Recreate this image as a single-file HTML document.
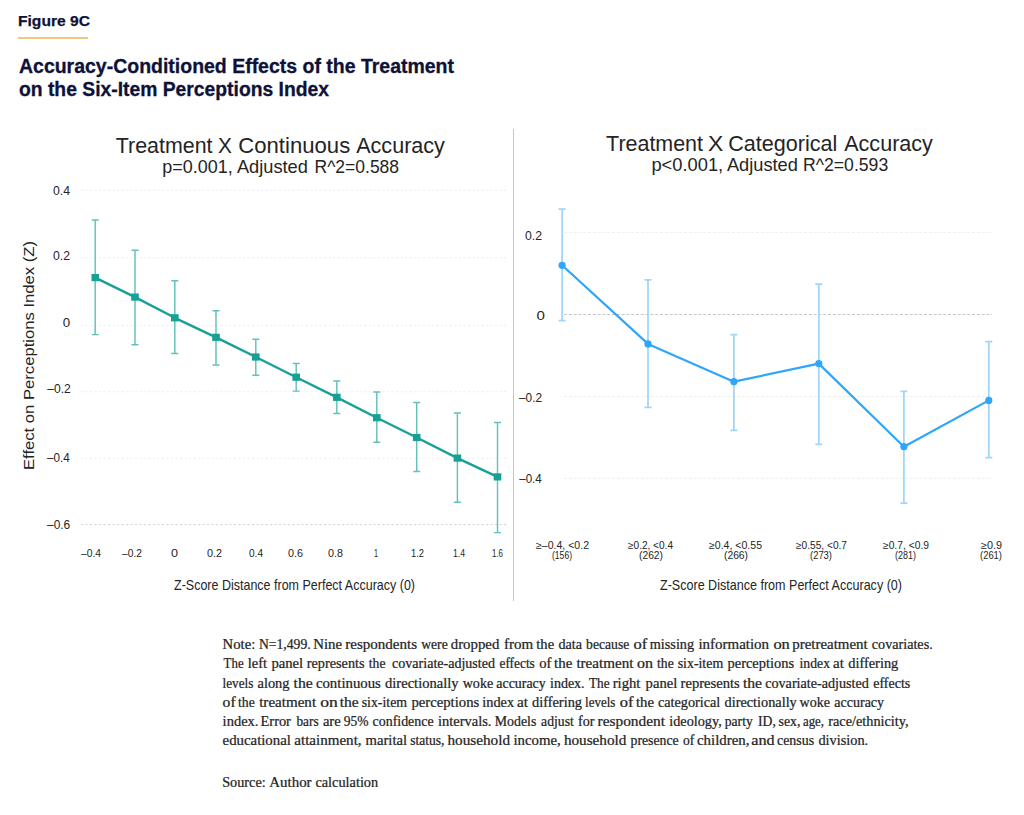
<!DOCTYPE html>
<html><head><meta charset="utf-8"><title>Figure 9C</title>
<style>
html,body{margin:0;padding:0;background:#fff;}
body{width:1024px;height:815px;overflow:hidden;font-family:"Liberation Sans",sans-serif;}
svg{display:block;}
</style></head><body>
<svg width="1024" height="815" viewBox="0 0 1024 815">
<rect x="18" y="37" width="70" height="2" fill="#efc980"/>
<rect x="513" y="129" width="1" height="472" fill="#c6c6c6"/>
<line x1="81" y1="190.2" x2="508" y2="190.2" stroke="#ededed" stroke-width="1" stroke-dasharray="2.2 2.3"/>
<line x1="81" y1="257.8" x2="508" y2="257.8" stroke="#ededed" stroke-width="1" stroke-dasharray="2.2 2.3"/>
<line x1="81" y1="325.4" x2="508" y2="325.4" stroke="#ededed" stroke-width="1" stroke-dasharray="2.2 2.3"/>
<line x1="81" y1="391.8" x2="508" y2="391.8" stroke="#ededed" stroke-width="1" stroke-dasharray="2.2 2.3"/>
<line x1="81" y1="458.4" x2="508" y2="458.4" stroke="#ededed" stroke-width="1" stroke-dasharray="2.2 2.3"/>
<line x1="81" y1="524.6" x2="508" y2="524.6" stroke="#d2d2d2" stroke-width="1" stroke-dasharray="2.2 2.3"/>
<line x1="564" y1="232.3" x2="992" y2="232.3" stroke="#ededed" stroke-width="1" stroke-dasharray="3 1.8"/>
<line x1="564" y1="314.5" x2="992" y2="314.5" stroke="#c6c6c6" stroke-width="1" stroke-dasharray="3 1.8"/>
<line x1="564" y1="396.5" x2="992" y2="396.5" stroke="#ededed" stroke-width="1" stroke-dasharray="3 1.8"/>
<line x1="564" y1="478.3" x2="992" y2="478.3" stroke="#ededed" stroke-width="1" stroke-dasharray="3 1.8"/>
<path d="M95.2 219.9V334.6M91.8 219.9h7M91.8 334.6h7" stroke="#62c2ba" stroke-width="1.45" fill="none"/>
<path d="M135.0 250.2V344.8M131.5 250.2h7M131.5 344.8h7" stroke="#62c2ba" stroke-width="1.45" fill="none"/>
<path d="M174.8 280.7V353.4M171.3 280.7h7M171.3 353.4h7" stroke="#62c2ba" stroke-width="1.45" fill="none"/>
<path d="M216.0 310.8V364.9M212.5 310.8h7M212.5 364.9h7" stroke="#62c2ba" stroke-width="1.45" fill="none"/>
<path d="M255.8 339.3V375.3M252.3 339.3h7M252.3 375.3h7" stroke="#62c2ba" stroke-width="1.45" fill="none"/>
<path d="M296.2 363.4V391.1M292.7 363.4h7M292.7 391.1h7" stroke="#62c2ba" stroke-width="1.45" fill="none"/>
<path d="M336.8 380.9V413.4M333.3 380.9h7M333.3 413.4h7" stroke="#62c2ba" stroke-width="1.45" fill="none"/>
<path d="M376.8 392.0V442.3M373.3 392.0h7M373.3 442.3h7" stroke="#62c2ba" stroke-width="1.45" fill="none"/>
<path d="M416.7 402.5V471.4M413.2 402.5h7M413.2 471.4h7" stroke="#62c2ba" stroke-width="1.45" fill="none"/>
<path d="M457.4 413.0V502.3M453.9 413.0h7M453.9 502.3h7" stroke="#62c2ba" stroke-width="1.45" fill="none"/>
<path d="M497.5 422.4V532.6M494.0 422.4h7M494.0 532.6h7" stroke="#62c2ba" stroke-width="1.45" fill="none"/>
<polyline points="95.2,277.6 135.0,297.1 174.8,317.8 216.0,337.3 255.8,357.0 296.2,377.2 336.8,397.3 376.8,417.7 416.7,437.5 457.4,458.1 497.5,476.9" stroke="#17a096" stroke-width="2.4" fill="none" stroke-linejoin="round"/>
<rect x="91.5" y="274.0" width="7.6" height="7.2" fill="#17a096"/>
<rect x="131.2" y="293.5" width="7.6" height="7.2" fill="#17a096"/>
<rect x="171.0" y="314.2" width="7.6" height="7.2" fill="#17a096"/>
<rect x="212.2" y="333.7" width="7.6" height="7.2" fill="#17a096"/>
<rect x="252.0" y="353.4" width="7.6" height="7.2" fill="#17a096"/>
<rect x="292.4" y="373.6" width="7.6" height="7.2" fill="#17a096"/>
<rect x="333.0" y="393.7" width="7.6" height="7.2" fill="#17a096"/>
<rect x="373.0" y="414.1" width="7.6" height="7.2" fill="#17a096"/>
<rect x="412.9" y="433.9" width="7.6" height="7.2" fill="#17a096"/>
<rect x="453.6" y="454.5" width="7.6" height="7.2" fill="#17a096"/>
<rect x="493.7" y="473.3" width="7.6" height="7.2" fill="#17a096"/>
<path d="M562.1 209V320.7M558.6 209h7M558.6 320.7h7" stroke="#a0d6fc" stroke-width="1.75" fill="none"/>
<path d="M648.0 279.8V407.4M644.5 279.8h7M644.5 407.4h7" stroke="#a0d6fc" stroke-width="1.75" fill="none"/>
<path d="M733.9 334.7V430.4M730.4 334.7h7M730.4 430.4h7" stroke="#a0d6fc" stroke-width="1.75" fill="none"/>
<path d="M818.8 284.1V444.3M815.3 284.1h7M815.3 444.3h7" stroke="#a0d6fc" stroke-width="1.75" fill="none"/>
<path d="M903.9 391.3V503.2M900.4 391.3h7M900.4 503.2h7" stroke="#a0d6fc" stroke-width="1.75" fill="none"/>
<path d="M988.8 341.6V457.6M985.3 341.6h7M985.3 457.6h7" stroke="#a0d6fc" stroke-width="1.75" fill="none"/>
<polyline points="562.1,265.3 648.0,343.9 733.9,381.7 818.8,363.6 903.9,446.7 988.8,400.4" stroke="#2ea6fb" stroke-width="2.2" fill="none" stroke-linejoin="round"/>
<circle cx="562.1" cy="265.3" r="3.6" fill="#2ea6fb"/>
<circle cx="648.0" cy="343.9" r="3.6" fill="#2ea6fb"/>
<circle cx="733.9" cy="381.7" r="3.6" fill="#2ea6fb"/>
<circle cx="818.8" cy="363.6" r="3.6" fill="#2ea6fb"/>
<circle cx="903.9" cy="446.7" r="3.6" fill="#2ea6fb"/>
<circle cx="988.8" cy="400.4" r="3.6" fill="#2ea6fb"/>
<text x="18.0" y="26.3" font-size="15.5" font-family="Liberation Sans" font-weight="bold" fill="#0e1238" stroke="#0e1238" stroke-width="0.25" textLength="72.0" lengthAdjust="spacingAndGlyphs">Figure 9C</text>
<text x="19.0" y="72.9" font-size="19.5" font-family="Liberation Sans" font-weight="bold" fill="#0e1238" stroke="#0e1238" stroke-width="0.3" textLength="435.0" lengthAdjust="spacingAndGlyphs">Accuracy-Conditioned Effects of the Treatment</text>
<text x="19.0" y="96.3" font-size="19.5" font-family="Liberation Sans" font-weight="bold" fill="#0e1238" stroke="#0e1238" stroke-width="0.3" textLength="310.0" lengthAdjust="spacingAndGlyphs">on the Six-Item Perceptions Index</text>
<text x="115.8" y="152.5" font-size="22.6" font-family="Liberation Sans" fill="#242424" textLength="96.7" lengthAdjust="spacingAndGlyphs">Treatment</text>
<text x="217.9" y="152.5" font-size="22.6" font-family="Liberation Sans" fill="#242424" textLength="13.9" lengthAdjust="spacingAndGlyphs">X</text>
<text x="238.3" y="152.5" font-size="22.6" font-family="Liberation Sans" fill="#242424" textLength="111.9" lengthAdjust="spacingAndGlyphs">Continuous</text>
<text x="356.2" y="152.5" font-size="22.6" font-family="Liberation Sans" fill="#242424" textLength="88.7" lengthAdjust="spacingAndGlyphs">Accuracy</text>
<text x="162.3" y="173.3" font-size="17.8" font-family="Liberation Sans" fill="#242424" textLength="70.5" lengthAdjust="spacingAndGlyphs">p=0.001,</text>
<text x="236.9" y="173.3" font-size="17.8" font-family="Liberation Sans" fill="#242424" textLength="71.0" lengthAdjust="spacingAndGlyphs">Adjusted</text>
<text x="314.5" y="173.3" font-size="17.8" font-family="Liberation Sans" fill="#242424" textLength="84.6" lengthAdjust="spacingAndGlyphs">R^2=0.588</text>
<text x="606.1" y="150.6" font-size="22.6" font-family="Liberation Sans" fill="#242424" textLength="96.9" lengthAdjust="spacingAndGlyphs">Treatment</text>
<text x="707.9" y="150.6" font-size="22.6" font-family="Liberation Sans" fill="#242424" textLength="15.3" lengthAdjust="spacingAndGlyphs">X</text>
<text x="728.3" y="150.6" font-size="22.6" font-family="Liberation Sans" fill="#242424" textLength="109.0" lengthAdjust="spacingAndGlyphs">Categorical</text>
<text x="844.2" y="150.6" font-size="22.6" font-family="Liberation Sans" fill="#242424" textLength="88.7" lengthAdjust="spacingAndGlyphs">Accuracy</text>
<text x="651.4" y="170.9" font-size="17.8" font-family="Liberation Sans" fill="#242424" textLength="71.8" lengthAdjust="spacingAndGlyphs">p&lt;0.001,</text>
<text x="726.9" y="170.9" font-size="17.8" font-family="Liberation Sans" fill="#242424" textLength="71.0" lengthAdjust="spacingAndGlyphs">Adjusted</text>
<text x="803.0" y="170.9" font-size="17.8" font-family="Liberation Sans" fill="#242424" textLength="85.2" lengthAdjust="spacingAndGlyphs">R^2=0.593</text>
<text x="53.0" y="195.3" font-size="13" font-family="Liberation Sans" fill="#242424" textLength="17.0" lengthAdjust="spacingAndGlyphs">0.4</text>
<text x="53.0" y="260.0" font-size="13" font-family="Liberation Sans" fill="#242424" textLength="17.0" lengthAdjust="spacingAndGlyphs">0.2</text>
<text x="62.8" y="326.6" font-size="13" font-family="Liberation Sans" fill="#242424" textLength="7.4" lengthAdjust="spacingAndGlyphs">0</text>
<text x="47.2" y="393.2" font-size="13" font-family="Liberation Sans" fill="#242424" textLength="23.6" lengthAdjust="spacingAndGlyphs">–0.2</text>
<text x="47.0" y="462.3" font-size="13" font-family="Liberation Sans" fill="#242424" textLength="22.8" lengthAdjust="spacingAndGlyphs">–0.4</text>
<text x="47.0" y="529.0" font-size="13" font-family="Liberation Sans" fill="#242424" textLength="23.2" lengthAdjust="spacingAndGlyphs">–0.6</text>
<text x="525.0" y="239.5" font-size="13" font-family="Liberation Sans" fill="#242424" textLength="17.0" lengthAdjust="spacingAndGlyphs">0.2</text>
<text x="536.5" y="320.3" font-size="13" font-family="Liberation Sans" fill="#242424" textLength="8.4" lengthAdjust="spacingAndGlyphs">0</text>
<text x="519.0" y="401.8" font-size="13" font-family="Liberation Sans" fill="#242424" textLength="23.0" lengthAdjust="spacingAndGlyphs">–0.2</text>
<text x="519.2" y="482.8" font-size="13" font-family="Liberation Sans" fill="#242424" textLength="22.6" lengthAdjust="spacingAndGlyphs">–0.4</text>
<text x="81.0" y="557.0" font-size="10.3" font-family="Liberation Sans" fill="#242424" textLength="20.0" lengthAdjust="spacingAndGlyphs">–0.4</text>
<text x="122.0" y="557.0" font-size="10.3" font-family="Liberation Sans" fill="#242424" textLength="20.0" lengthAdjust="spacingAndGlyphs">–0.2</text>
<text x="171.0" y="557.0" font-size="10.3" font-family="Liberation Sans" fill="#242424" textLength="7.0" lengthAdjust="spacingAndGlyphs">0</text>
<text x="207.0" y="557.0" font-size="10.3" font-family="Liberation Sans" fill="#242424" textLength="15.0" lengthAdjust="spacingAndGlyphs">0.2</text>
<text x="249.0" y="557.0" font-size="10.3" font-family="Liberation Sans" fill="#242424" textLength="14.0" lengthAdjust="spacingAndGlyphs">0.4</text>
<text x="288.0" y="557.0" font-size="10.3" font-family="Liberation Sans" fill="#242424" textLength="15.0" lengthAdjust="spacingAndGlyphs">0.6</text>
<text x="328.0" y="557.0" font-size="10.3" font-family="Liberation Sans" fill="#242424" textLength="15.0" lengthAdjust="spacingAndGlyphs">0.8</text>
<text x="374.0" y="557.0" font-size="10.3" font-family="Liberation Sans" fill="#242424" textLength="4.0" lengthAdjust="spacingAndGlyphs">1</text>
<text x="411.0" y="557.0" font-size="10.3" font-family="Liberation Sans" fill="#242424" textLength="13.0" lengthAdjust="spacingAndGlyphs">1.2</text>
<text x="453.0" y="557.0" font-size="10.3" font-family="Liberation Sans" fill="#242424" textLength="12.0" lengthAdjust="spacingAndGlyphs">1.4</text>
<text x="492.0" y="557.0" font-size="10.3" font-family="Liberation Sans" fill="#242424" textLength="11.0" lengthAdjust="spacingAndGlyphs">1.6</text>
<text x="536.0" y="549.1" font-size="10.4" font-family="Liberation Sans" fill="#242424" textLength="53.0" lengthAdjust="spacingAndGlyphs">≥–0.4, &lt;0.2</text>
<text x="552.0" y="558.7" font-size="10.4" font-family="Liberation Sans" fill="#242424" textLength="20.0" lengthAdjust="spacingAndGlyphs">(156)</text>
<text x="628.0" y="549.1" font-size="10.4" font-family="Liberation Sans" fill="#242424" textLength="45.0" lengthAdjust="spacingAndGlyphs">≥0.2, &lt;0.4</text>
<text x="639.0" y="558.7" font-size="10.4" font-family="Liberation Sans" fill="#242424" textLength="24.0" lengthAdjust="spacingAndGlyphs">(262)</text>
<text x="709.0" y="549.1" font-size="10.4" font-family="Liberation Sans" fill="#242424" textLength="53.0" lengthAdjust="spacingAndGlyphs">≥0.4, &lt;0.55</text>
<text x="724.0" y="558.7" font-size="10.4" font-family="Liberation Sans" fill="#242424" textLength="24.0" lengthAdjust="spacingAndGlyphs">(266)</text>
<text x="796.0" y="549.1" font-size="10.4" font-family="Liberation Sans" fill="#242424" textLength="51.0" lengthAdjust="spacingAndGlyphs">≥0.55, &lt;0.7</text>
<text x="810.0" y="558.7" font-size="10.4" font-family="Liberation Sans" fill="#242424" textLength="22.0" lengthAdjust="spacingAndGlyphs">(273)</text>
<text x="883.0" y="549.1" font-size="10.4" font-family="Liberation Sans" fill="#242424" textLength="46.0" lengthAdjust="spacingAndGlyphs">≥0.7, &lt;0.9</text>
<text x="895.0" y="558.7" font-size="10.4" font-family="Liberation Sans" fill="#242424" textLength="21.0" lengthAdjust="spacingAndGlyphs">(281)</text>
<text x="981.0" y="549.1" font-size="10.4" font-family="Liberation Sans" fill="#242424" textLength="21.0" lengthAdjust="spacingAndGlyphs">≥0.9</text>
<text x="980.0" y="558.7" font-size="10.4" font-family="Liberation Sans" fill="#242424" textLength="22.0" lengthAdjust="spacingAndGlyphs">(261)</text>
<text x="174.0" y="589.8" font-size="13.9" font-family="Liberation Sans" fill="#242424" textLength="241.0" lengthAdjust="spacingAndGlyphs">Z-Score Distance from Perfect Accuracy (0)</text>
<text x="660.0" y="589.8" font-size="13.9" font-family="Liberation Sans" fill="#242424" textLength="242.0" lengthAdjust="spacingAndGlyphs">Z-Score Distance from Perfect Accuracy (0)</text>
<text transform="translate(34.0 470.0) rotate(-90)" x="0" y="0" font-size="15" font-family="Liberation Sans" fill="#242424" textLength="229.0" lengthAdjust="spacingAndGlyphs">Effect on Perceptions Index (Z)</text>
<text x="222.6" y="648.9" font-size="14" font-family="Liberation Serif" fill="#242424" stroke="#242424" stroke-width="0.24" textLength="32.7" lengthAdjust="spacingAndGlyphs">Note:</text>
<text x="258.9" y="648.9" font-size="14" font-family="Liberation Serif" fill="#242424" stroke="#242424" stroke-width="0.24" textLength="51.8" lengthAdjust="spacingAndGlyphs">N=1,499.</text>
<text x="313.25" y="648.9" font-size="14" font-family="Liberation Serif" fill="#242424" stroke="#242424" stroke-width="0.24" textLength="28.85" lengthAdjust="spacingAndGlyphs">Nine</text>
<text x="345.2" y="648.9" font-size="14" font-family="Liberation Serif" fill="#242424" stroke="#242424" stroke-width="0.24" textLength="71.9" lengthAdjust="spacingAndGlyphs">respondents</text>
<text x="421.2" y="648.9" font-size="14" font-family="Liberation Serif" fill="#242424" stroke="#242424" stroke-width="0.24" textLength="26.5" lengthAdjust="spacingAndGlyphs">were</text>
<text x="450.75" y="648.9" font-size="14" font-family="Liberation Serif" fill="#242424" stroke="#242424" stroke-width="0.24" textLength="48.55" lengthAdjust="spacingAndGlyphs">dropped</text>
<text x="504.0" y="648.9" font-size="14" font-family="Liberation Serif" fill="#242424" stroke="#242424" stroke-width="0.24" textLength="29.2" lengthAdjust="spacingAndGlyphs">from</text>
<text x="536.3" y="648.9" font-size="14" font-family="Liberation Serif" fill="#242424" stroke="#242424" stroke-width="0.24" textLength="17.8" lengthAdjust="spacingAndGlyphs">the</text>
<text x="558.4" y="648.9" font-size="14" font-family="Liberation Serif" fill="#242424" stroke="#242424" stroke-width="0.24" textLength="23.6" lengthAdjust="spacingAndGlyphs">data</text>
<text x="586.1" y="648.9" font-size="14" font-family="Liberation Serif" fill="#242424" stroke="#242424" stroke-width="0.24" textLength="43.2" lengthAdjust="spacingAndGlyphs">because</text>
<text x="633.6" y="648.9" font-size="14" font-family="Liberation Serif" fill="#242424" stroke="#242424" stroke-width="0.24" textLength="13.7" lengthAdjust="spacingAndGlyphs">of</text>
<text x="649.8" y="648.9" font-size="14" font-family="Liberation Serif" fill="#242424" stroke="#242424" stroke-width="0.24" textLength="44.3" lengthAdjust="spacingAndGlyphs">missing</text>
<text x="698.4" y="648.9" font-size="14" font-family="Liberation Serif" fill="#242424" stroke="#242424" stroke-width="0.24" textLength="70.7" lengthAdjust="spacingAndGlyphs">information</text>
<text x="773.4" y="648.9" font-size="14" font-family="Liberation Serif" fill="#242424" stroke="#242424" stroke-width="0.24" textLength="16.4" lengthAdjust="spacingAndGlyphs">on</text>
<text x="792.2" y="648.9" font-size="14" font-family="Liberation Serif" fill="#242424" stroke="#242424" stroke-width="0.24" textLength="75.5" lengthAdjust="spacingAndGlyphs">pretreatment</text>
<text x="871.8" y="648.9" font-size="14" font-family="Liberation Serif" fill="#242424" stroke="#242424" stroke-width="0.24" textLength="60.9" lengthAdjust="spacingAndGlyphs">covariates.</text>
<text x="223.6" y="668.2" font-size="14" font-family="Liberation Serif" fill="#242424" stroke="#242424" stroke-width="0.24" textLength="20.0" lengthAdjust="spacingAndGlyphs">The</text>
<text x="247.7" y="668.2" font-size="14" font-family="Liberation Serif" fill="#242424" stroke="#242424" stroke-width="0.24" textLength="19.4" lengthAdjust="spacingAndGlyphs">left</text>
<text x="271.4" y="668.2" font-size="14" font-family="Liberation Serif" fill="#242424" stroke="#242424" stroke-width="0.24" textLength="31.8" lengthAdjust="spacingAndGlyphs">panel</text>
<text x="306.8" y="668.2" font-size="14" font-family="Liberation Serif" fill="#242424" stroke="#242424" stroke-width="0.24" textLength="57.7" lengthAdjust="spacingAndGlyphs">represents</text>
<text x="368.8" y="668.2" font-size="14" font-family="Liberation Serif" fill="#242424" stroke="#242424" stroke-width="0.24" textLength="16.7" lengthAdjust="spacingAndGlyphs">the</text>
<text x="392.1" y="668.2" font-size="14" font-family="Liberation Serif" fill="#242424" stroke="#242424" stroke-width="0.24" textLength="102.9" lengthAdjust="spacingAndGlyphs">covariate-adjusted</text>
<text x="499.5" y="668.2" font-size="14" font-family="Liberation Serif" fill="#242424" stroke="#242424" stroke-width="0.24" textLength="35.3" lengthAdjust="spacingAndGlyphs">effects</text>
<text x="539.2" y="668.2" font-size="14" font-family="Liberation Serif" fill="#242424" stroke="#242424" stroke-width="0.24" textLength="12.2" lengthAdjust="spacingAndGlyphs">of</text>
<text x="554.1" y="668.2" font-size="14" font-family="Liberation Serif" fill="#242424" stroke="#242424" stroke-width="0.24" textLength="18.2" lengthAdjust="spacingAndGlyphs">the</text>
<text x="576.4" y="668.2" font-size="14" font-family="Liberation Serif" fill="#242424" stroke="#242424" stroke-width="0.24" textLength="57.0" lengthAdjust="spacingAndGlyphs">treatment</text>
<text x="637.1" y="668.2" font-size="14" font-family="Liberation Serif" fill="#242424" stroke="#242424" stroke-width="0.24" textLength="16.0" lengthAdjust="spacingAndGlyphs">on</text>
<text x="657.0" y="668.2" font-size="14" font-family="Liberation Serif" fill="#242424" stroke="#242424" stroke-width="0.24" textLength="16.7" lengthAdjust="spacingAndGlyphs">the</text>
<text x="677.7" y="668.2" font-size="14" font-family="Liberation Serif" fill="#242424" stroke="#242424" stroke-width="0.24" textLength="45.5" lengthAdjust="spacingAndGlyphs">six-item</text>
<text x="727.5" y="668.2" font-size="14" font-family="Liberation Serif" fill="#242424" stroke="#242424" stroke-width="0.24" textLength="66.6" lengthAdjust="spacingAndGlyphs">perceptions</text>
<text x="799.5" y="668.2" font-size="14" font-family="Liberation Serif" fill="#242424" stroke="#242424" stroke-width="0.24" textLength="30.5" lengthAdjust="spacingAndGlyphs">index</text>
<text x="833.1" y="668.2" font-size="14" font-family="Liberation Serif" fill="#242424" stroke="#242424" stroke-width="0.24" textLength="10.9" lengthAdjust="spacingAndGlyphs">at</text>
<text x="848.25" y="668.2" font-size="14" font-family="Liberation Serif" fill="#242424" stroke="#242424" stroke-width="0.24" textLength="50.0" lengthAdjust="spacingAndGlyphs">differing</text>
<text x="222.6" y="687.5" font-size="14" font-family="Liberation Serif" fill="#242424" stroke="#242424" stroke-width="0.24" textLength="30.8" lengthAdjust="spacingAndGlyphs">levels</text>
<text x="257.5" y="687.5" font-size="14" font-family="Liberation Serif" fill="#242424" stroke="#242424" stroke-width="0.24" textLength="32.0" lengthAdjust="spacingAndGlyphs">along</text>
<text x="293.6" y="687.5" font-size="14" font-family="Liberation Serif" fill="#242424" stroke="#242424" stroke-width="0.24" textLength="19.2" lengthAdjust="spacingAndGlyphs">the</text>
<text x="315.9" y="687.5" font-size="14" font-family="Liberation Serif" fill="#242424" stroke="#242424" stroke-width="0.24" textLength="65.0" lengthAdjust="spacingAndGlyphs">continuous</text>
<text x="385.0" y="687.5" font-size="14" font-family="Liberation Serif" fill="#242424" stroke="#242424" stroke-width="0.24" textLength="73.6" lengthAdjust="spacingAndGlyphs">directionally</text>
<text x="462.7" y="687.5" font-size="14" font-family="Liberation Serif" fill="#242424" stroke="#242424" stroke-width="0.24" textLength="30.5" lengthAdjust="spacingAndGlyphs">woke</text>
<text x="496.3" y="687.5" font-size="14" font-family="Liberation Serif" fill="#242424" stroke="#242424" stroke-width="0.24" textLength="49.4" lengthAdjust="spacingAndGlyphs">accuracy</text>
<text x="550.0" y="687.5" font-size="14" font-family="Liberation Serif" fill="#242424" stroke="#242424" stroke-width="0.24" textLength="34.6" lengthAdjust="spacingAndGlyphs">index.</text>
<text x="589.0" y="687.5" font-size="14" font-family="Liberation Serif" fill="#242424" stroke="#242424" stroke-width="0.24" textLength="20.6" lengthAdjust="spacingAndGlyphs">The</text>
<text x="612.7" y="687.5" font-size="14" font-family="Liberation Serif" fill="#242424" stroke="#242424" stroke-width="0.24" textLength="27.7" lengthAdjust="spacingAndGlyphs">right</text>
<text x="645.6" y="687.5" font-size="14" font-family="Liberation Serif" fill="#242424" stroke="#242424" stroke-width="0.24" textLength="31.7" lengthAdjust="spacingAndGlyphs">panel</text>
<text x="680.6" y="687.5" font-size="14" font-family="Liberation Serif" fill="#242424" stroke="#242424" stroke-width="0.24" textLength="59.2" lengthAdjust="spacingAndGlyphs">represents</text>
<text x="742.9" y="687.5" font-size="14" font-family="Liberation Serif" fill="#242424" stroke="#242424" stroke-width="0.24" textLength="19.2" lengthAdjust="spacingAndGlyphs">the</text>
<text x="765.2" y="687.5" font-size="14" font-family="Liberation Serif" fill="#242424" stroke="#242424" stroke-width="0.24" textLength="103.7" lengthAdjust="spacingAndGlyphs">covariate-adjusted</text>
<text x="873.25" y="687.5" font-size="14" font-family="Liberation Serif" fill="#242424" stroke="#242424" stroke-width="0.24" textLength="37.05" lengthAdjust="spacingAndGlyphs">effects</text>
<text x="222.6" y="706.6" font-size="14" font-family="Liberation Serif" fill="#242424" stroke="#242424" stroke-width="0.24" textLength="13.0" lengthAdjust="spacingAndGlyphs">of</text>
<text x="238.0" y="706.6" font-size="14" font-family="Liberation Serif" fill="#242424" stroke="#242424" stroke-width="0.24" textLength="16.8" lengthAdjust="spacingAndGlyphs">the</text>
<text x="259.2" y="706.6" font-size="14" font-family="Liberation Serif" fill="#242424" stroke="#242424" stroke-width="0.24" textLength="56.9" lengthAdjust="spacingAndGlyphs">treatment</text>
<text x="320.2" y="706.6" font-size="14" font-family="Liberation Serif" fill="#242424" stroke="#242424" stroke-width="0.24" textLength="17.6" lengthAdjust="spacingAndGlyphs">on</text>
<text x="339.7" y="706.6" font-size="14" font-family="Liberation Serif" fill="#242424" stroke="#242424" stroke-width="0.24" textLength="19.0" lengthAdjust="spacingAndGlyphs">the</text>
<text x="361.7" y="706.6" font-size="14" font-family="Liberation Serif" fill="#242424" stroke="#242424" stroke-width="0.24" textLength="45.4" lengthAdjust="spacingAndGlyphs">six-item</text>
<text x="411.4" y="706.6" font-size="14" font-family="Liberation Serif" fill="#242424" stroke="#242424" stroke-width="0.24" textLength="67.85" lengthAdjust="spacingAndGlyphs">perceptions</text>
<text x="482.3" y="706.6" font-size="14" font-family="Liberation Serif" fill="#242424" stroke="#242424" stroke-width="0.24" textLength="31.8" lengthAdjust="spacingAndGlyphs">index</text>
<text x="516.9" y="706.6" font-size="14" font-family="Liberation Serif" fill="#242424" stroke="#242424" stroke-width="0.24" textLength="11.0" lengthAdjust="spacingAndGlyphs">at</text>
<text x="532.0" y="706.6" font-size="14" font-family="Liberation Serif" fill="#242424" stroke="#242424" stroke-width="0.24" textLength="50.0" lengthAdjust="spacingAndGlyphs">differing</text>
<text x="585.1" y="706.6" font-size="14" font-family="Liberation Serif" fill="#242424" stroke="#242424" stroke-width="0.24" textLength="30.3" lengthAdjust="spacingAndGlyphs">levels</text>
<text x="619.7" y="706.6" font-size="14" font-family="Liberation Serif" fill="#242424" stroke="#242424" stroke-width="0.24" textLength="13.7" lengthAdjust="spacingAndGlyphs">of</text>
<text x="636.0" y="706.6" font-size="14" font-family="Liberation Serif" fill="#242424" stroke="#242424" stroke-width="0.24" textLength="18.1" lengthAdjust="spacingAndGlyphs">the</text>
<text x="658.0" y="706.6" font-size="14" font-family="Liberation Serif" fill="#242424" stroke="#242424" stroke-width="0.24" textLength="62.3" lengthAdjust="spacingAndGlyphs">categorical</text>
<text x="724.6" y="706.6" font-size="14" font-family="Liberation Serif" fill="#242424" stroke="#242424" stroke-width="0.24" textLength="72.15" lengthAdjust="spacingAndGlyphs">directionally</text>
<text x="799.5" y="706.6" font-size="14" font-family="Liberation Serif" fill="#242424" stroke="#242424" stroke-width="0.24" textLength="30.5" lengthAdjust="spacingAndGlyphs">woke</text>
<text x="834.3" y="706.6" font-size="14" font-family="Liberation Serif" fill="#242424" stroke="#242424" stroke-width="0.24" textLength="49.8" lengthAdjust="spacingAndGlyphs">accuracy</text>
<text x="222.6" y="725.8" font-size="14" font-family="Liberation Serif" fill="#242424" stroke="#242424" stroke-width="0.24" textLength="35.9" lengthAdjust="spacingAndGlyphs">index.</text>
<text x="260.6" y="725.8" font-size="14" font-family="Liberation Serif" fill="#242424" stroke="#242424" stroke-width="0.24" textLength="30.3" lengthAdjust="spacingAndGlyphs">Error</text>
<text x="296.4" y="725.8" font-size="14" font-family="Liberation Serif" fill="#242424" stroke="#242424" stroke-width="0.24" textLength="22.2" lengthAdjust="spacingAndGlyphs">bars</text>
<text x="322.9" y="725.8" font-size="14" font-family="Liberation Serif" fill="#242424" stroke="#242424" stroke-width="0.24" textLength="17.8" lengthAdjust="spacingAndGlyphs">are</text>
<text x="343.8" y="725.8" font-size="14" font-family="Liberation Serif" fill="#242424" stroke="#242424" stroke-width="0.24" textLength="24.8" lengthAdjust="spacingAndGlyphs">95%</text>
<text x="372.6" y="725.8" font-size="14" font-family="Liberation Serif" fill="#242424" stroke="#242424" stroke-width="0.24" textLength="61.0" lengthAdjust="spacingAndGlyphs">confidence</text>
<text x="437.9" y="725.8" font-size="14" font-family="Liberation Serif" fill="#242424" stroke="#242424" stroke-width="0.24" textLength="53.6" lengthAdjust="spacingAndGlyphs">intervals.</text>
<text x="494.8" y="725.8" font-size="14" font-family="Liberation Serif" fill="#242424" stroke="#242424" stroke-width="0.24" textLength="41.5" lengthAdjust="spacingAndGlyphs">Models</text>
<text x="541.1" y="725.8" font-size="14" font-family="Liberation Serif" fill="#242424" stroke="#242424" stroke-width="0.24" textLength="32.7" lengthAdjust="spacingAndGlyphs">adjust</text>
<text x="578.1" y="725.8" font-size="14" font-family="Liberation Serif" fill="#242424" stroke="#242424" stroke-width="0.24" textLength="16.4" lengthAdjust="spacingAndGlyphs">for</text>
<text x="597.6" y="725.8" font-size="14" font-family="Liberation Serif" fill="#242424" stroke="#242424" stroke-width="0.24" textLength="67.4" lengthAdjust="spacingAndGlyphs">respondent</text>
<text x="669.3" y="725.8" font-size="14" font-family="Liberation Serif" fill="#242424" stroke="#242424" stroke-width="0.24" textLength="52.45" lengthAdjust="spacingAndGlyphs">ideology,</text>
<text x="724.8" y="725.8" font-size="14" font-family="Liberation Serif" fill="#242424" stroke="#242424" stroke-width="0.24" textLength="27.9" lengthAdjust="spacingAndGlyphs">party</text>
<text x="758.0" y="725.8" font-size="14" font-family="Liberation Serif" fill="#242424" stroke="#242424" stroke-width="0.24" textLength="17.8" lengthAdjust="spacingAndGlyphs">ID,</text>
<text x="778.5" y="725.8" font-size="14" font-family="Liberation Serif" fill="#242424" stroke="#242424" stroke-width="0.24" textLength="21.9" lengthAdjust="spacingAndGlyphs">sex,</text>
<text x="803.0" y="725.8" font-size="14" font-family="Liberation Serif" fill="#242424" stroke="#242424" stroke-width="0.24" textLength="21.0" lengthAdjust="spacingAndGlyphs">age,</text>
<text x="828.25" y="725.8" font-size="14" font-family="Liberation Serif" fill="#242424" stroke="#242424" stroke-width="0.24" textLength="80.35" lengthAdjust="spacingAndGlyphs">race/ethnicity,</text>
<text x="222.6" y="744.8" font-size="14" font-family="Liberation Serif" fill="#242424" stroke="#242424" stroke-width="0.24" textLength="68.3" lengthAdjust="spacingAndGlyphs">educational</text>
<text x="294.3" y="744.8" font-size="14" font-family="Liberation Serif" fill="#242424" stroke="#242424" stroke-width="0.24" textLength="67.3" lengthAdjust="spacingAndGlyphs">attainment,</text>
<text x="365.6" y="744.8" font-size="14" font-family="Liberation Serif" fill="#242424" stroke="#242424" stroke-width="0.24" textLength="41.5" lengthAdjust="spacingAndGlyphs">marital</text>
<text x="410.2" y="744.8" font-size="14" font-family="Liberation Serif" fill="#242424" stroke="#242424" stroke-width="0.24" textLength="34.2" lengthAdjust="spacingAndGlyphs">status,</text>
<text x="447.5" y="744.8" font-size="14" font-family="Liberation Serif" fill="#242424" stroke="#242424" stroke-width="0.24" textLength="62.5" lengthAdjust="spacingAndGlyphs">household</text>
<text x="513.4" y="744.8" font-size="14" font-family="Liberation Serif" fill="#242424" stroke="#242424" stroke-width="0.24" textLength="47.4" lengthAdjust="spacingAndGlyphs">income,</text>
<text x="563.9" y="744.8" font-size="14" font-family="Liberation Serif" fill="#242424" stroke="#242424" stroke-width="0.24" textLength="62.5" lengthAdjust="spacingAndGlyphs">household</text>
<text x="630.5" y="744.8" font-size="14" font-family="Liberation Serif" fill="#242424" stroke="#242424" stroke-width="0.24" textLength="48.2" lengthAdjust="spacingAndGlyphs">presence</text>
<text x="683.0" y="744.8" font-size="14" font-family="Liberation Serif" fill="#242424" stroke="#242424" stroke-width="0.24" textLength="11.3" lengthAdjust="spacingAndGlyphs">of</text>
<text x="697.0" y="744.8" font-size="14" font-family="Liberation Serif" fill="#242424" stroke="#242424" stroke-width="0.24" textLength="52.4" lengthAdjust="spacingAndGlyphs">children,</text>
<text x="751.3" y="744.8" font-size="14" font-family="Liberation Serif" fill="#242424" stroke="#242424" stroke-width="0.24" textLength="23.3" lengthAdjust="spacingAndGlyphs">and</text>
<text x="777.0" y="744.8" font-size="14" font-family="Liberation Serif" fill="#242424" stroke="#242424" stroke-width="0.24" textLength="37.1" lengthAdjust="spacingAndGlyphs">census</text>
<text x="818.4" y="744.8" font-size="14" font-family="Liberation Serif" fill="#242424" stroke="#242424" stroke-width="0.24" textLength="49.8" lengthAdjust="spacingAndGlyphs">division.</text>
<text x="222.2" y="786.9" font-size="14" font-family="Liberation Serif" fill="#242424" stroke="#242424" stroke-width="0.24" textLength="43.5" lengthAdjust="spacingAndGlyphs">Source:</text>
<text x="269.3" y="786.9" font-size="14" font-family="Liberation Serif" fill="#242424" stroke="#242424" stroke-width="0.24" textLength="42.3" lengthAdjust="spacingAndGlyphs">Author</text>
<text x="315.4" y="786.9" font-size="14" font-family="Liberation Serif" fill="#242424" stroke="#242424" stroke-width="0.24" textLength="62.8" lengthAdjust="spacingAndGlyphs">calculation</text>
</svg>
</body></html>
